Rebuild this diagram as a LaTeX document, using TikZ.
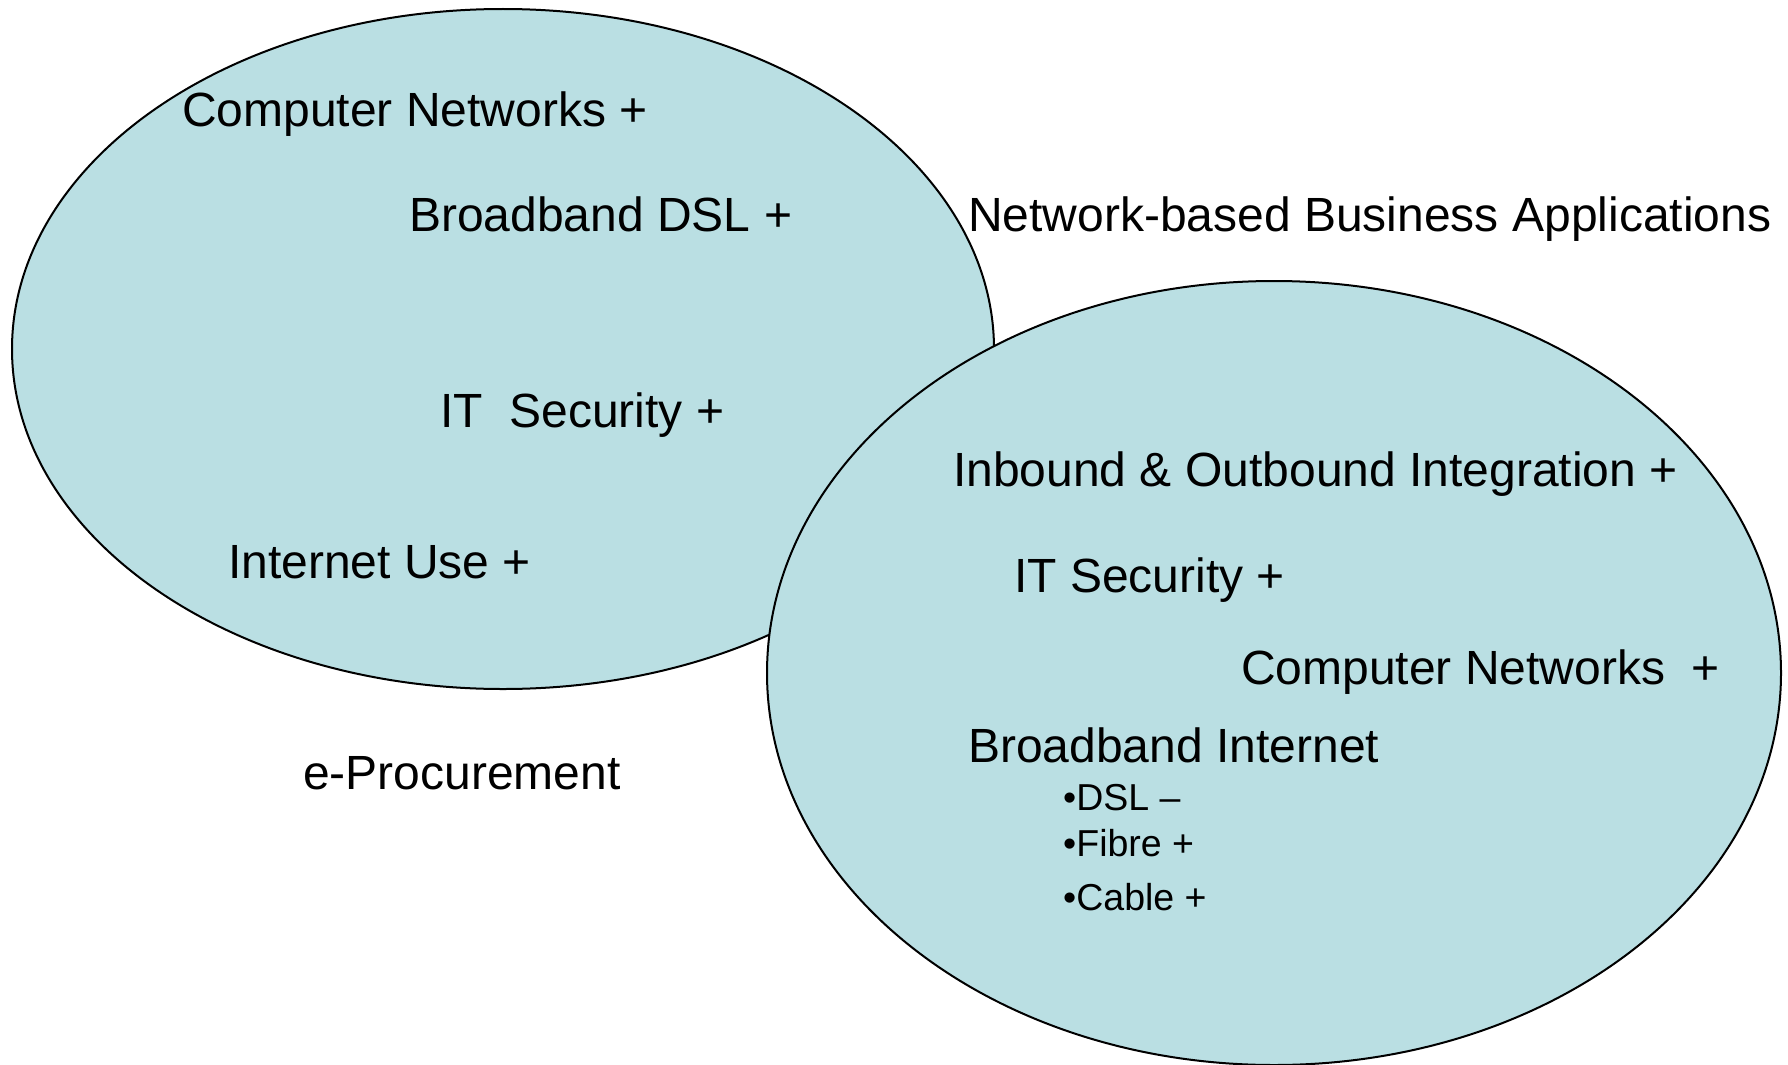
\documentclass[tikz,border=0pt]{standalone}
\usepackage{fontspec}
\setmainfont{Liberation Sans}
\definecolor{bubblefill}{RGB}{186,223,227}
\begin{document}
\begin{tikzpicture}[x=1pt,y=-1pt,
  bubble/.style={fill=bubblefill,draw=black,line width=2pt},
  big/.style={anchor=base west,inner sep=0pt,font=\fontsize{48}{57}\selectfont},
  small/.style={anchor=base west,inner sep=0pt,font=\fontsize{37.5}{45}\selectfont}]
\useasboundingbox (0,0) rectangle (1788,1065);
\path[bubble] (503,349) ellipse [x radius=491, y radius=340];
\path[bubble] (1274,673) ellipse [x radius=507, y radius=392];
% left set
\node[big] (lcn) at (182,126) {Computer Networks +};
\node[big] (lbd) at (409,231) {Broadband DSL +};
\node[big] (lits) at (440,427) {IT\ \ Security +};
\node[big] (liu) at (228,578) {Internet Use +};
\node[big] (eproc) at (303,789) {e-Procurement};
% right set
\node[big] (nbba) at (968,231) {Network-based Business Applications};
\node[big] (rio) at (953,486) {Inbound \& Outbound Integration +};
\node[big] (rits) at (1014,592) {IT Security +};
\node[big] (rcn) at (1241,684) {Computer Networks\ \ +};
\node[big] (rbi) at (968,762) {Broadband Internet};
\node[small] (rdsl) at (1063,810) {•DSL –};
\node[small] (rfib) at (1063,856) {•Fibre +};
\node[small] (rcab) at (1063,910) {•Cable +};
\end{tikzpicture}
\end{document}
